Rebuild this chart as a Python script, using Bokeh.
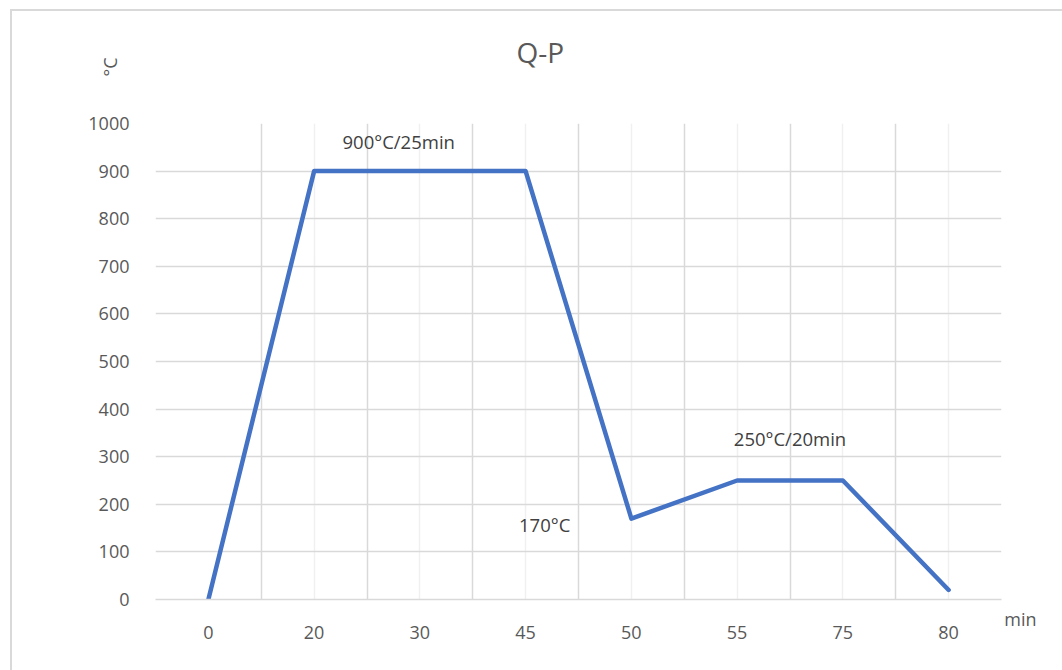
from bokeh.plotting import figure
from bokeh.models import FactorRange, Range1d, FixedTicker, Grid, Label, Title
from bokeh.embed import file_html
from bokeh.resources import INLINE

# ---- data ----
minutes = ["0", "20", "30", "45", "50", "55", "75", "80"]
temps = [0, 900, 900, 900, 170, 250, 250, 20]
y_ticks = [0, 100, 200, 300, 400, 500, 600, 700, 800, 900, 1000]
title_text = "Q-P"
y_unit = "°C"
x_unit = "min"
note_hold1 = "900°C/25min"
note_quench = "170°C"
note_hold2 = "250°C/20min"

FONT = "Open Sans"
TICK_COLOR = "#595959"
GRID_MAJOR = "#d9d9d9"
GRID_MINOR = "#f0f0f0"
LINE_COLOR = "#4472C4"

OX, OY = 10, 9   # outer chart-area offset inside the window
BW = 2           # chart-area border width

p = figure(width=1062 - OX, height=670 - OY,
           x_range=FactorRange(*minutes, range_padding=0),
           y_range=Range1d(0, 1000),
           output_backend="svg", toolbar_location=None,
           min_border_left=143, min_border_right=63,
           min_border_top=123 - OY - BW, min_border_bottom=73,
           background_fill_color="white", border_fill_color="white",
           margin=(OY, 0, 0, OX))
p.styles = {"border-left": f"{BW}px solid #d9d9d9", "border-top": f"{BW}px solid #d9d9d9",
            "box-sizing": "border-box"}
p.outline_line_color = None

# title
p.title.text = title_text
p.title.align = "left"
p.title.offset = 361
p.title.vertical_align = "top"
p.title.standoff = -182
p.title.text_font = FONT
p.title.text_font_size = "28px"
p.title.text_font_style = "normal"
p.title.text_color = TICK_COLOR

# grids
p.xgrid.grid_line_color = GRID_MINOR
p.xgrid.grid_line_width = 1.5
p.add_layout(Grid(dimension=0, ticker=FixedTicker(ticks=list(range(len(minutes) + 1))),
                  grid_line_color=GRID_MAJOR, grid_line_width=1.5))
p.ygrid.ticker = FixedTicker(ticks=y_ticks)
p.ygrid.grid_line_color = GRID_MAJOR
p.ygrid.grid_line_width = 1.5

# axes
p.yaxis.ticker = FixedTicker(ticks=y_ticks)
p.yaxis.axis_line_color = None
p.yaxis.major_tick_line_color = None
p.yaxis.minor_tick_line_color = None
p.yaxis.major_label_standoff = 20
p.yaxis.major_label_text_font = FONT
p.yaxis.major_label_text_font_size = "18px"
p.yaxis.major_label_text_color = TICK_COLOR

p.xaxis.axis_line_color = GRID_MAJOR
p.xaxis.axis_line_width = 1.5
p.xaxis.major_tick_line_color = None
p.xaxis.minor_tick_line_color = None
p.xaxis.major_label_standoff = 20
p.xaxis.major_label_text_font = FONT
p.xaxis.major_label_text_font_size = "18px"
p.xaxis.major_label_text_color = TICK_COLOR

# unit labels as side titles
p.add_layout(Title(text=y_unit, align="right", offset=-66, standoff=-72,
                   text_font=FONT, text_font_size="18px", text_font_style="normal",
                   text_color=TICK_COLOR), "left")
p.add_layout(Title(text=x_unit, align="right", offset=-35, standoff=-70,
                   vertical_align="top",
                   text_font=FONT, text_font_size="18px", text_font_style="normal",
                   text_color=TICK_COLOR), "below")

# data line
p.line(x=minutes, y=temps, line_color=LINE_COLOR, line_width=4.5,
       line_join="round", line_cap="round")

# annotations inside plot
lbl_kw = dict(text_font=FONT, text_font_size="18.5px", text_color="#404040",
              text_align="center", text_baseline="middle")
p.add_layout(Label(x=2.3, y=962, text=note_hold1, **lbl_kw))
p.add_layout(Label(x=3.68, y=158, text=note_quench, **lbl_kw))
p.add_layout(Label(x=6.0, y=338, text=note_hold2, **lbl_kw))

open("out.html", "w").write(file_html(p, INLINE))
